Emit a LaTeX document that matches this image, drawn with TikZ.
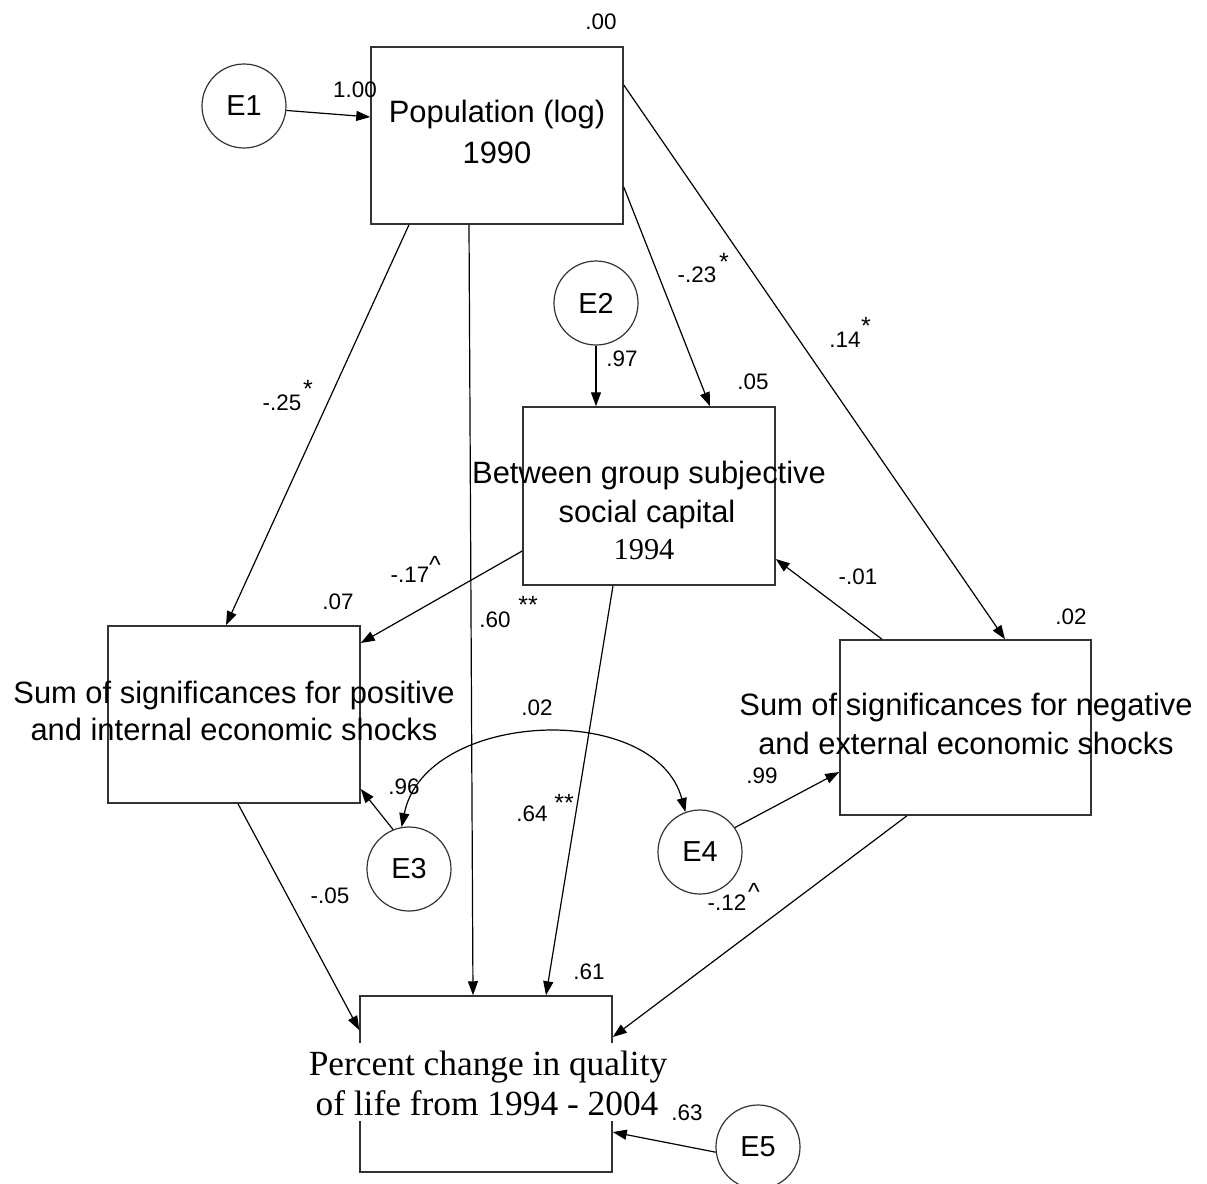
\documentclass[tikz,border=0pt]{standalone}
\usepackage{fontspec}
\setmainfont{Liberation Sans}
\newfontfamily\timesfam{Liberation Serif}
\usetikzlibrary{arrows.meta,calc}

\begin{document}
\begin{tikzpicture}[x=1bp,y=-1bp,
  box/.style={draw=black!80, line width=1.5bp, minimum width=252bp, minimum height=177bp, inner sep=0pt},
  err/.style={circle, draw=black!80, line width=1.2bp, minimum size=84bp, inner sep=0pt, font=\fontsize{29}{29}\selectfont},
  arr/.style={-{Triangle[length=14bp,width=10bp]}, line width=1.2bp},
  dblarr/.style={{Triangle[length=14bp,width=10bp]}-{Triangle[length=14bp,width=10bp]}, line width=1.2bp},
  lbl/.style={inner sep=0pt, font=\fontsize{22.5}{22.5}\selectfont},
  sig/.style={inner sep=0pt, font=\fontsize{25}{25}\selectfont},
  txt/.style={inner sep=0pt, anchor=base, font=\fontsize{31}{31}\selectfont},
  ser/.style={inner sep=0pt, anchor=base, font=\timesfam\fontsize{35.5}{35.5}\selectfont},
]
\useasboundingbox (0,0) rectangle (1207,1184);

% observed variables
\node[box] (pop) at (497,135.5) {};
\node[box, minimum height=178bp] (btw) at (649,496) {};
\node[box] (lft) at (234,714.5) {};
\node[box, minimum width=251bp, minimum height=175bp] (rgt) at (965.5,727.5) {};
\node[box, minimum height=176bp] (bot) at (486,1084) {};

% error terms
\node[err] (e1) at (244,106) {E1};
\node[err] (e2) at (596,303) {E2};
\node[err] (e3) at (409,869) {E3};
\node[err] (e4) at (700,852) {E4};
\node[err] (e5) at (758,1147) {E5};

% box captions
\node[txt] (poptxt1) at (497,122) {Population (log)};
\node[txt] (poptxt2) at (497,163) {1990};
\node[txt] (btwtxt1) at (649,483) {Between group subjective};
\node[txt] (btwtxt2) at (647,522) {social capital};
\node[ser, font=\timesfam\fontsize{30.5}{30.5}\selectfont] (btwtxt3) at (644,559) {1994};
\node[txt] (lfttxt1) at (234,703) {Sum of significances for positive};
\node[txt] (lfttxt2) at (234,740) {and internal economic shocks};
\node[txt] (rgttxt1) at (966,715) {Sum of significances for negative};
\node[txt] (rgttxt2) at (966,754) {and external economic shocks};
\node[ser, fill=white, text height=32bp, text depth=8bp, inner xsep=3bp] (bottxt1) at (488,1075) {Percent change in quality};
\node[ser, fill=white, text height=32bp, text depth=6bp, inner xsep=3bp] (bottxt2) at (487,1115) {of life from 1994 - 2004};

% paths
\draw[arr] (e1.-6) -- (pop.west |- 0,117);
\draw[arr] (pop.south -| 409,0) -- (lft.north -| 226,0);
\draw[arr] (pop.south -| 469,0) -- (bot.north -| 473,0);
\draw[arr] (pop.east |- 0,187) -- (btw.north -| 710,0);
\draw[arr] (pop.east |- 0,85) -- (rgt.north -| 1005,0);
\draw[arr] (e2.south) -- (btw.north -| 596,0);
\draw[arr] (btw.west |- 0,551) -- (lft.east |- 0,643);
\draw[arr] (rgt.north -| 882,0) -- (btw.east |- 0,559);
\draw[arr] (btw.south -| 613,0) -- (bot.north -| 546,0);
\draw[arr] (lft.south -| 238,0) -- (bot.west |- 0,1030);
\draw[arr] (rgt.south -| 907,0) -- (bot.east |- 0,1037);
\draw[arr] (e3.112) -- (lft.east |- 0,789);
\draw[arr] (e4.35) -- (rgt.west |- 0,772);
\draw[arr] (e5.187) -- (bot.east |- 0,1132);
\draw[dblarr] (e3.100) .. controls (425,710) and (655,700) .. (e4.110);

% coefficients
\node[lbl] (l00) at (601,22) {.00};
\node[lbl] (l100) at (355,90) {1.00};
\node[lbl] (l05) at (753,382) {.05};
\node[lbl] (l97) at (622,359) {.97};
\node[lbl] (l23) at (697,275) {-.23};
\node[sig] (l23s) at (724,262) {*};
\node[lbl] (l14) at (845,340) {.14};
\node[sig] (l14s) at (866,326) {*};
\node[lbl] (l25) at (282,403) {-.25};
\node[sig] (l25s) at (308,389) {*};
\node[lbl] (l17) at (410,575) {-.17};
\node[sig] (l17s) at (435,565) {\textasciicircum};
\node[lbl] (l07) at (338,602) {.07};
\node[lbl] (l60) at (495,620) {.60};
\node[sig] (l60s) at (528,605) {**};
\node[lbl] (l01) at (858,577) {-.01};
\node[lbl] (l02r) at (1071,617) {.02};
\node[lbl] (l02c) at (537,708) {.02};
\node[lbl] (l96) at (404,787) {.96};
\node[lbl] (l64) at (532,814) {.64};
\node[sig] (l64s) at (564,803) {**};
\node[lbl] (l99) at (762,776) {.99};
\node[lbl] (l05b) at (330,896) {-.05};
\node[lbl] (l12) at (727,903) {-.12};
\node[sig] (l12s) at (754,892) {\textasciicircum};
\node[lbl] (l61) at (589,972) {.61};
\node[lbl] (l63) at (687,1113) {.63};
\end{tikzpicture}
\end{document}
